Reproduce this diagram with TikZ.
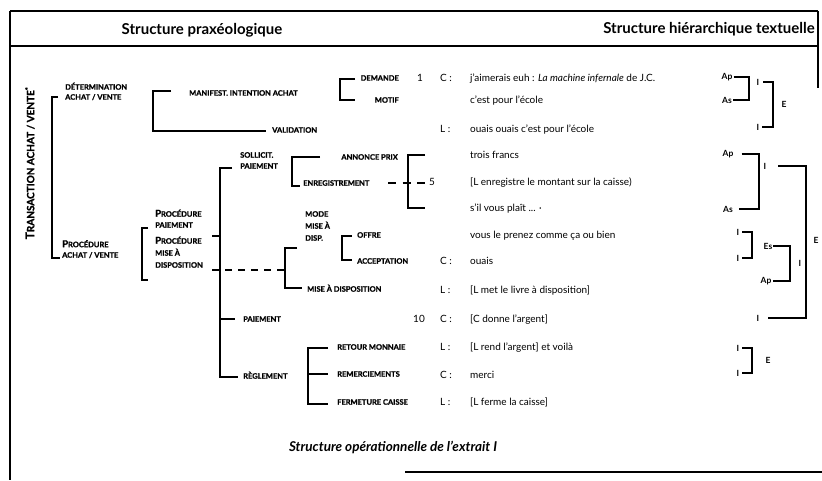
\documentclass[tikz,border=0pt]{standalone}
\usepackage{fontspec}
\setmainfont{Lato}
\newfontfamily\heavyfont[BoldFeatures={FakeBold=1.2}]{Lato}
\newcommand\labfont{\fontsize{7.5}{11}\selectfont\heavyfont\bfseries}
\newcommand\txtfont{\fontsize{10}{11}\selectfont}
\newcommand\hierfont{\fontsize{8.5}{10}\selectfont\bfseries}
\newcommand\headfont{\fontsize{15}{17}\selectfont\bfseries}
\newcommand\bigfirst[2]{{\fontsize{9.5}{11}\selectfont #1}#2}
\begin{document}
\begin{tikzpicture}[x=1pt,y=-1pt,
  br/.style={line width=1.1pt, line join=miter},
  frm/.style={line width=1.5pt},
  lab/.style={font=\labfont, inner sep=0pt, anchor=base west, align=left, yshift=-2.7pt},
  labr/.style={lab, anchor=base east, align=right},
  txt/.style={font=\txtfont, inner sep=0pt, anchor=base west, yshift=-3.4pt},
  num/.style={font=\txtfont, inner sep=0pt, anchor=base east, yshift=-3.4pt},
  hier/.style={font=\hierfont, inner sep=0pt},
  head/.style={font=\headfont, inner sep=0pt},
  dashlink/.style={br, dash pattern=on 7pt off 6pt}]
\useasboundingbox (0,0) rectangle (822,480);

% frame and header
\draw[frm] (10,11) -- (818,11);
\draw[frm] (10,11) -- (10,480);
\draw[frm] (818,11) -- (818,88);
\draw[frm] (10,46) -- (818,46);
\draw[frm] (405,472) -- (822,472);
\node[head] (hleft) at (202,30) {Structure praxéologique};
\node[head, anchor=east] (hright) at (815,29) {Structure hiérarchique textuelle};

% praxeological tree
\node[rotate=90, font=\fontsize{10}{11}\selectfont\heavyfont\bfseries, inner sep=0pt] (trans) at (30,163)
  {{\fontsize{12}{12}\selectfont T}RANSACTION ACHAT / VENTE\textsuperscript{*}};

\node[lab, font=\fontsize{7.5}{10}\selectfont\heavyfont\bfseries] (det) at (65,97) {DÉTERMINATION\\ACHAT / VENTE};
\node[lab, font=\fontsize{7.5}{10.5}\selectfont\heavyfont\bfseries] (proc) at (62,255) {\bigfirst{P}{ROCÉDURE}\\ACHAT / VENTE};
\node[lab] (manif) at (189,93) {MANIFEST. INTENTION ACHAT};
\node[lab] (valid) at (272,130) {VALIDATION};
\node[labr] (demande) at (399,78) {DEMANDE};
\node[labr] (motif) at (399,100) {MOTIF};
\node[lab] (soll) at (240,166) {SOLLICIT.\\PAIEMENT};
\node[labr] (annonce) at (398,157) {ANNONCE PRIX};
\node[lab] (enreg) at (303,183) {ENREGISTREMENT};
\node[lab] (pp) at (155,225) {\bigfirst{P}{ROCÉDURE}\\PAIEMENT};
\node[lab, font=\fontsize{7.5}{12}\selectfont\heavyfont\bfseries] (pmd) at (155,265) {\bigfirst{P}{ROCÉDURE}\\MISE À\\DISPOSITION};
\node[lab, font=\fontsize{7.5}{12}\selectfont\heavyfont\bfseries] (mode) at (305,238) {MODE\\MISE À\\DISP.};
\node[lab] (offre) at (357,235) {OFFRE};
\node[lab] (accept) at (357,261) {ACCEPTATION};
\node[lab] (mad) at (307,289) {MISE À DISPOSITION};
\node[lab] (paie) at (243,319) {PAIEMENT};
\node[lab] (regl) at (243,376) {RÈGLEMENT};
\node[lab] (retour) at (337,347) {RETOUR MONNAIE};
\node[lab] (remerc) at (337,374) {REMERCIEMENTS};
\node[lab] (ferm) at (337,402) {FERMETURE CAISSE};

% bracket ends and spines
\coordinate (aT) at (58,97);   \coordinate (aV) at (52,170);  \coordinate (aB) at (60,258);
\coordinate (bT) at (171,91);  \coordinate (bV) at (153,110); \coordinate (bB) at (266,131);
\coordinate (cT) at (355,79);  \coordinate (cV) at (340,90);  \coordinate (cB) at (355,100);
\coordinate (dT) at (148,228); \coordinate (dV) at (142,250); \coordinate (dB) at (148,280);
\coordinate (eT) at (232,168); \coordinate (eV) at (220,270); \coordinate (eB) at (238,377);
\coordinate (fT) at (297,248); \coordinate (fV) at (285,268); \coordinate (fB) at (302,288);
\coordinate (gT) at (320,157); \coordinate (gV) at (292,170); \coordinate (gB) at (300,186);
\coordinate (hT) at (425,155); \coordinate (hV) at (408,180); \coordinate (hB) at (425,208);
\coordinate (iT) at (352,236); \coordinate (iV) at (342,248); \coordinate (iB) at (352,260);
\coordinate (jT) at (328,348); \coordinate (jV) at (308,375); \coordinate (jB) at (328,404);
\coordinate (jM) at (328,374);
\coordinate (ppT) at (212,236);
\coordinate (pmdT) at (212,270);
\coordinate (paieT) at (235,319);
\coordinate (enT) at (388,183);
\coordinate (enE) at (425,183);

\foreach \k in {a,b,c,d,e,f,g,h,i,j}
  \draw[br] (\k T) -| (\k V) |- (\k B);
\draw[br] (jV |- jM) -- (jM);
\draw[br] (eV |- paieT) -- (paieT);
\draw[br] (ppT) -- (eV |- ppT);
\draw[dashlink] (pmdT) -- (fV |- pmdT);
\draw[br, dash pattern=on 8pt off 6.5pt] (enT) -- (enE);

% transcript
\node[num] (n1) at (423,78) {1};
\node[num] (n5) at (435,182) {5};
\node[num] (n10) at (425,319) {10};

\node[txt] (s1) at (440,78) {C :};
\node[txt] (t1) at (470,78) {j'aimerais euh : \textit{La machine infernale} de J.C.};
\node[txt] (t2) at (470,100) {c'est pour l'école};
\node[txt] (s3) at (440,129) {L :};
\node[txt] (t3) at (470,129) {ouais ouais c'est pour l'école};
\node[txt] (t4) at (470,155) {trois francs};
\node[txt] (t5) at (470,182) {[L enregistre le montant sur la caisse)};
\node[txt] (t6) at (470,208) {s'il vous plaît ... ·};
\node[txt] (t7) at (470,235) {vous le prenez comme ça ou bien};
\node[txt] (s8) at (440,261) {C :};
\node[txt] (t8) at (470,261) {ouais};
\node[txt] (s9) at (440,290) {L :};
\node[txt] (t9) at (470,290) {[L met le livre à disposition]};
\node[txt] (s10) at (440,319) {C :};
\node[txt] (t10) at (470,319) {[C donne l'argent]};
\node[txt] (s11) at (440,347) {L :};
\node[txt] (t11) at (470,347) {[L rend l'argent] et voilà};
\node[txt] (s12) at (440,375) {C :};
\node[txt] (t12) at (470,375) {merci};
\node[txt] (s13) at (440,402) {L :};
\node[txt] (t13) at (470,402) {[L ferme la caisse]};

\node[font=\fontsize{13.5}{15}\selectfont\bfseries\itshape, inner sep=0pt] (caption) at (393,447)
  {Structure opérationnelle de l'extrait I};

% hierarchical structure
\node[hier] (hAp1) at (727,77) {Ap};
\node[hier] (hAs1) at (727,100) {As};
\coordinate (kK) at (749,88);
\draw[br] ([xshift=1pt]hAp1.east) -| (kK) |- ([xshift=1pt]hAs1.east);
\node[hier] (hI1) at (758,82) {I};
\node[hier] (hI2) at (758,127) {I};
\coordinate (kL) at (773,105);
\draw[br] ([xshift=4pt]hI1.east) -| (kL) |- ([xshift=3pt]hI2.east);
\node[hier] (hE1) at (784,104) {E};

\node[hier] (hAp2) at (728,154) {Ap};
\node[hier] (hAs2) at (728,209) {As};
\coordinate (kM) at (759,180);
\draw[br] ([xshift=8pt]hAp2.east) -| (kM) |- ([xshift=6pt]hAs2.east);
\node[hier] (hI3) at (765,166) {I};
\node[hier] (hI4) at (758,318) {I};
\coordinate (kN) at (806,240);
\draw[br] ([xshift=12pt]hI3.east) -| (kN) |- ([xshift=9pt]hI4.east);
\node[hier] (hE2) at (816,240) {E};

\node[hier] (hI5) at (738,232) {I};
\node[hier] (hI6) at (738,258) {I};
\coordinate (kO) at (752,245);
\draw[br] ([xshift=3pt]hI5.east) -| (kO) |- ([xshift=3pt]hI6.east);
\node[hier] (hEs) at (768,246) {Es};
\node[hier] (hAp3) at (766,281) {Ap};
\coordinate (kP) at (790,264);
\draw[br] ([xshift=1pt]hEs.east) -| (kP) |- ([xshift=1pt]hAp3.east);
\node[hier] (hI7) at (800,263) {I};

\node[hier] (hI8) at (738,348) {I};
\node[hier] (hI9) at (738,373) {I};
\coordinate (kQ) at (752,360);
\draw[br] ([xshift=3pt]hI8.east) -| (kQ) |- ([xshift=3pt]hI9.east);
\node[hier] (hE3) at (768,360) {E};
\end{tikzpicture}
\end{document}
